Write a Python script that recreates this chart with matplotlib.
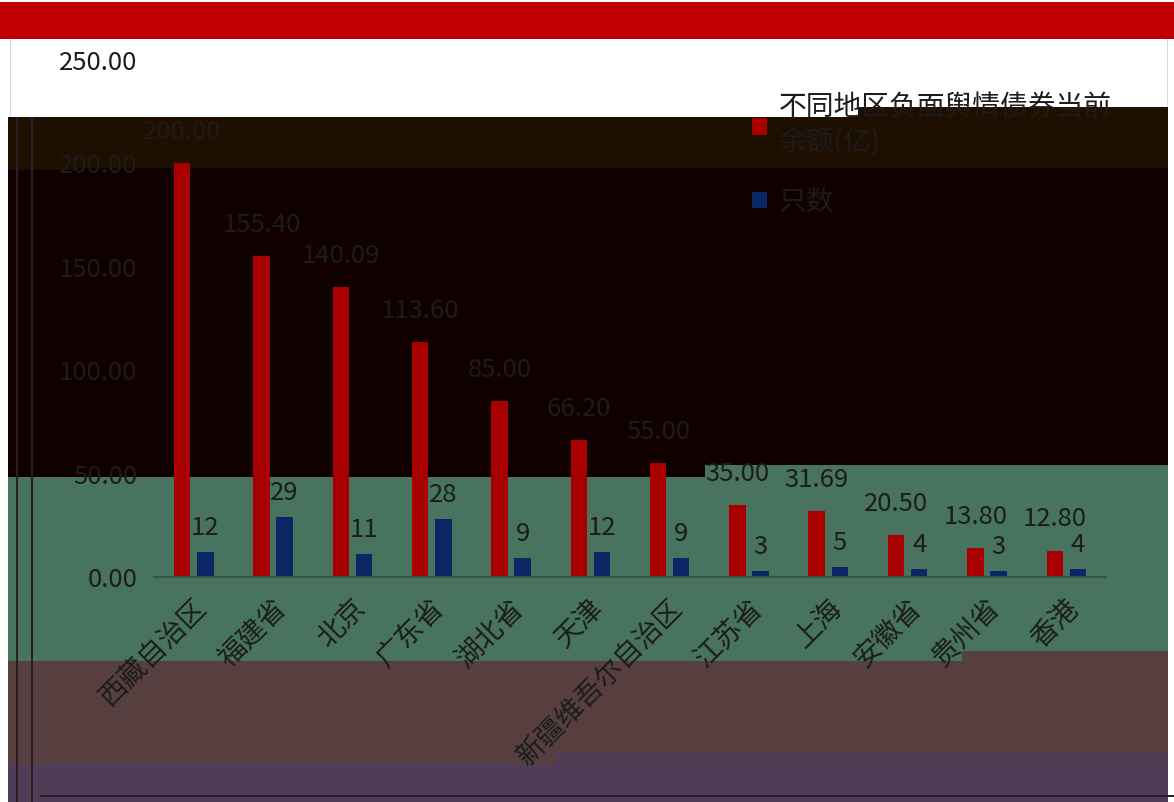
"""
Negative-sentiment bond balance by region: grouped bars (balance, count),
over the banded background seen in the source screenshot.
"""
import matplotlib
matplotlib.use("Agg")
import matplotlib.pyplot as plt
from matplotlib.patches import Rectangle
from matplotlib.transforms import ScaledTranslation
import numpy as np

plt.rcParams["font.family"] = ["Noto Sans CJK SC", "DejaVu Sans"]

REGIONS = ["西藏自治区", "福建省", "北京", "广东省", "湖北省", "天津",
           "新疆维吾尔自治区", "江苏省", "上海", "安徽省", "贵州省", "香港"]
BALANCE = [200.00, 155.40, 140.09, 113.60, 85.00, 66.20,
           55.00, 35.00, 31.69, 20.50, 13.80, 12.80]
COUNT = [12, 29, 11, 28, 9, 12, 9, 3, 5, 4, 3, 4]
SERIES = ["不同地区负面舆情债券当前\n余额(亿)", "只数"]
YTICKS = [0, 50, 100, 150, 200, 250]

W, H = 1174, 802
RED = "#A80000"
BLUE = "#0B2766"
TXT = "#1c1c1c"


def band(fig, x0, y0, x1, y1, color, z=-10):
    # pixel box (top-left origin) -> figure fraction rectangle
    fig.add_artist(Rectangle((x0 / W, 1 - y1 / H), (x1 - x0) / W, (y1 - y0) / H,
                             transform=fig.transFigure, facecolor=color,
                             edgecolor="none", zorder=z))


def main():
    fig = plt.figure(figsize=(W / 100, H / 100), dpi=100)
    fig.patch.set_facecolor("white")

    # background bands of the screenshot
    band(fig, 0, 2, W, 39, "#C00000")
    band(fig, 8, 117, 1168, 170, "#1F0F00")
    band(fig, 858, 107, 1168, 117, "#1F0F00")
    band(fig, 8, 170, 1168, 477, "#100000")
    band(fig, 78, 168, 1168, 178, "#100000", z=-9)
    band(fig, 8, 477, 1168, 661, "#48735E")
    band(fig, 705, 465, 1168, 477, "#48735E", z=-9)
    band(fig, 8, 661, 1168, 764, "#573F3F")
    band(fig, 962, 651, 1168, 661, "#573F3F", z=-9)
    band(fig, 8, 764, 1168, H, "#4F3D57")
    band(fig, 556, 753, 1168, 764, "#4F3D57", z=-9)
    band(fig, 10, 39, 11, 117, "#D9D9D9")
    band(fig, 1167, 39, 1168, 107, "#D9D9D9")
    band(fig, 16, 117, 18, H, "#2A1E24", z=-8)
    band(fig, 31, 117, 33, H, "#2A1E24", z=-8)
    band(fig, 40, 795, W, 797, "#2A1E2E", z=-8)

    ax = fig.add_axes([154 / W, 1 - 577 / H, (1106 - 154) / W, (577 - 60) / H])
    ax.set_facecolor("none")

    x = np.arange(len(REGIONS))
    w = 0.21
    off = 0.145
    b1 = ax.bar(x - off, BALANCE, w, color=RED, label=SERIES[0], zorder=2)
    b2 = ax.bar(x + off, COUNT, w, color=BLUE, label=SERIES[1], zorder=2)
    ax.bar_label(b1, labels=[f"{v:.2f}" for v in BALANCE], padding=13,
                 fontsize=18.5, color=TXT)
    ax.bar_label(b2, labels=[str(v) for v in COUNT], padding=8,
                 fontsize=18.5, color=TXT)

    ax.set_xlim(-0.5, len(REGIONS) - 0.5)
    ax.set_ylim(0, 250)
    ax.set_yticks(YTICKS)
    ax.set_yticklabels([f"{v:.2f}" for v in YTICKS], fontsize=18.5, color=TXT)
    ax.set_xticks(x)
    ax.set_xticklabels(REGIONS, rotation=45, ha="right", va="center",
                       rotation_mode="anchor", fontsize=20, color=TXT)
    ax.tick_params(axis="both", length=0)
    ax.tick_params(axis="y", pad=12)
    ax.tick_params(axis="x", pad=14)
    # nudge the slanted labels after tick_params, which resets transforms
    shift = ScaledTranslation(9 / 100, -7 / 100, fig.dpi_scale_trans)
    for lab in ax.get_xticklabels():
        lab.set_transform(lab.get_transform() + shift)
    for s in ["top", "right", "left"]:
        ax.spines[s].set_visible(False)
    ax.spines["bottom"].set_color("#34574A")
    ax.spines["bottom"].set_linewidth(1.5)
    ax.spines["bottom"].set_zorder(3)

    leg = fig.legend(handles=[b1, b2], loc="upper left",
                     bbox_to_anchor=(752 / W, 1 - 92 / H), frameon=False,
                     borderaxespad=0, borderpad=0,
                     fontsize=20, handlelength=0.55, handleheight=0.55,
                     handletextpad=0.4, labelspacing=1.05, labelcolor=TXT)
    for t in leg.get_texts():
        t.set_linespacing(1.25)

    fig.savefig("out.png", dpi=100)
    plt.close(fig)


if __name__ == "__main__":
    main()
